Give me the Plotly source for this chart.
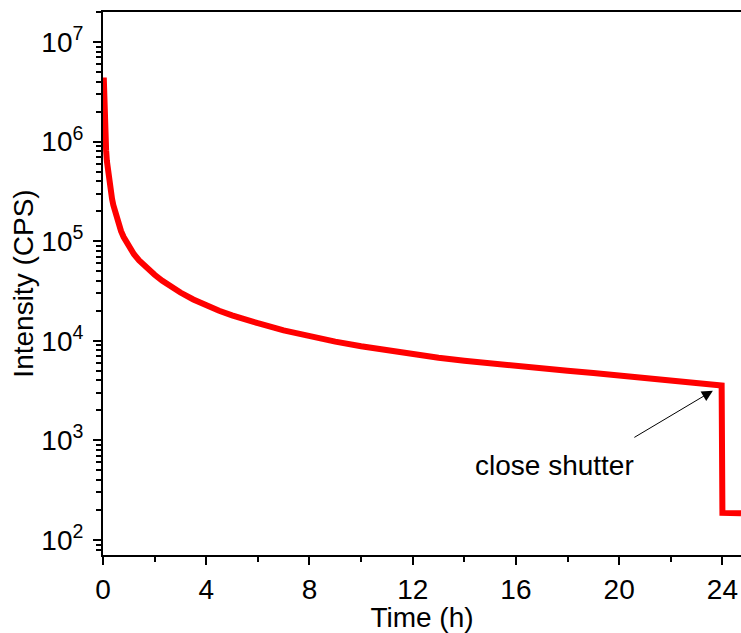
import plotly.graph_objects as go

# Data
time_h = [0.03, 0.04, 0.05, 0.06, 0.07, 0.085, 0.1, 0.12, 0.15, 0.2, 0.25, 0.3,
          0.35, 0.4, 0.5, 0.6, 0.7, 0.8, 0.9, 1.0, 1.2, 1.4, 1.6, 1.8, 2.0, 2.3,
          2.6, 3.0, 3.5, 4.0, 4.5, 5, 5.5, 6, 7, 8, 9, 10, 11, 12, 13, 14, 15,
          16, 17, 18, 19, 20, 21, 22, 23, 23.97, 24.0, 24.3, 24.72]
intensity_cps = [4.4e6, 3.2e6, 2.4e6, 1.9e6, 1.55e6, 1.22e6, 1.0e6, 8.2e5, 6.4e5,
                 4.75e5, 3.75e5, 3.13e5, 2.66e5, 2.3e5, 1.8e5, 1.48e5, 1.26e5,
                 1.1e5, 9.8e4, 8.8e4, 7.4e4, 6.4e4, 5.65e4, 5.05e4, 4.6e4, 4.0e4,
                 3.55e4, 3.05e4, 2.6e4, 2.25e4, 2.0e4, 1.8e4, 1.63e4, 1.5e4,
                 1.27e4, 1.1e4, 9.8e3, 8.8e3, 8.0e3, 7.3e3, 6.75e3, 6.3e3, 5.9e3,
                 5.55e3, 5.25e3, 5.0e3, 4.75e3, 4.5e3, 4.3e3, 4.05e3, 3.8e3,
                 3.55e3, 187, 185, 185]

x_ticks = [0, 4, 8, 12, 16, 20, 24]
x_minor = [2, 6, 10, 14, 18, 22]
y_exponents = [2, 3, 4, 5, 6, 7]
y_ticks = [10 ** e for e in y_exponents]
y_ticktext = ["10<sup>%d</sup>" % e for e in y_exponents]
y_minor = [m * 10 ** e for e in [1, 2, 3, 4, 5, 6, 7] for m in range(2, 10)]

annot_text = "close shutter"
annot_text_pos = (17.5, 2.743)
arrow_tip = (23.63, 3.499)
arrow_tail = (20.53, 3.021)

FONT = "Arial, Liberation Sans, sans-serif"

fig = go.Figure()
fig.add_trace(go.Scatter(
    x=time_h, y=intensity_cps, mode="lines",
    line=dict(color="#ff0000", width=6),
    showlegend=False,
))

fig.update_layout(
    width=741, height=633,
    margin=dict(l=103, r=0, t=12, b=78),
    paper_bgcolor="white", plot_bgcolor="white",
    font=dict(family=FONT, size=28, color="black"),
)

fig.update_xaxes(
    range=[0, 24.72], automargin=False,
    showline=True, linecolor="black", linewidth=2, mirror=True,
    showgrid=False, zeroline=False,
    tickmode="array", tickvals=x_ticks,
    ticks="outside", ticklen=8, tickwidth=2, tickcolor="black",
    minor=dict(tickmode="array", tickvals=x_minor, ticks="outside",
               ticklen=5, tickwidth=2, tickcolor="black"),
    tickfont=dict(size=28),
    ticklabelstandoff=0,
    title=dict(text="Time (h)", font=dict(size=28), standoff=12),
)

fig.update_yaxes(
    type="log", automargin=False,
    range=[1.849, 7.301],
    showline=True, linecolor="black", linewidth=2, mirror=False,
    showgrid=False, zeroline=False,
    tickmode="array", tickvals=y_ticks, ticktext=y_ticktext,
    ticks="outside", ticklen=8, tickwidth=2, tickcolor="black",
    minor=dict(tickmode="array", tickvals=y_minor, ticks="outside",
               ticklen=5, tickwidth=2, tickcolor="black"),
    tickfont=dict(size=28),
    ticklabelstandoff=4,
    title=dict(text="Intensity (CPS)", font=dict(size=28), standoff=0),
)

fig.add_annotation(
    x=annot_text_pos[0], y=annot_text_pos[1], xref="x", yref="y",
    text=annot_text, showarrow=False,
    font=dict(family=FONT, size=28, color="black"),
)
fig.add_annotation(
    x=arrow_tip[0], y=arrow_tip[1], xref="x", yref="y",
    ax=arrow_tail[0], ay=arrow_tail[1], axref="x", ayref="y",
    text="", showarrow=True, arrowhead=2, arrowsize=2.2, arrowwidth=1,
    arrowcolor="black", standoff=0,
)

fig.write_html("out.html")
